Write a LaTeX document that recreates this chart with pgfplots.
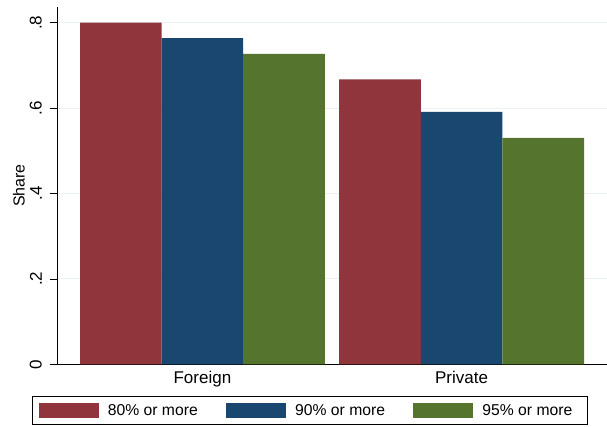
\documentclass[border=0pt]{standalone}
\usepackage{pgfplots}
\pgfplotsset{compat=1.18}
\usepackage{fontspec}
\setmainfont{Liberation Sans}
\definecolor{s2red}{RGB}{144,53,59}
\definecolor{s2blue}{RGB}{26,71,111}
\definecolor{s2green}{RGB}{85,117,47}
\definecolor{gridc}{RGB}{234,242,243}
\begin{document}
\begin{tikzpicture}[x=1pt,y=1pt]
\begin{axis}[
  at={(0,0)}, anchor=south west,
  scale only axis, width=550pt, height=357.6pt,
  xmin=-0.561, xmax=1.561, ymin=0, ymax=0.8375,
  axis x line*=bottom, axis y line*=left,
  axis line style={black, line width=0.8pt, -},
  ybar=0pt, bar width=81.6pt,
  xtick={0,1}, xticklabels={Foreign,Private},
  x tick style={draw=none},
  ytick={0,0.2,0.4,0.6,0.8}, yticklabels={0,.2,.4,.6,.8},
  tick align=outside, major tick length=7pt,
  y tick style={black, line width=0.8pt},
  ymajorgrids, grid style={gridc, line width=1pt},
  yticklabel shift=8pt,
  yticklabel style={rotate=90, anchor=south, inner sep=0pt, font=\fontsize{17}{20}\selectfont},
  xticklabel style={anchor=north, inner sep=0pt, yshift=0pt, font=\fontsize{17}{20}\selectfont},
  ylabel={Share},
  every axis y label/.style={at={(rel axis cs:0,0.5)}, xshift=-38pt, rotate=90, anchor=center, font=\fontsize{16}{19}\selectfont},
  legend columns=3,
  legend style={at={(rel axis cs:-0.0442,-0.0906)}, anchor=north west, draw=none, fill=none,
    inner xsep=6pt, inner ysep=6.5pt, font=\fontsize{15.7}{18}\selectfont,
    nodes={inner sep=0pt},
    /tikz/every odd column/.append style={column sep=9pt},
    /tikz/every even column/.append style={column sep=28.4pt}},
  legend cell align=left,
  legend image code/.code={\fill[#1] (0pt,-7.2pt) rectangle (60pt,7.2pt);},
]
\addplot[fill=s2red, draw=none] coordinates {(0,0.800) (1,0.6675)};
\addplot[fill=s2blue, draw=none] coordinates {(0,0.764) (1,0.591)};
\addplot[fill=s2green, draw=none] coordinates {(0,0.727) (1,0.530)};
\legend{80\% or more, 90\% or more, 95\% or more}
\end{axis}
\draw[black, line width=0.6pt] (-24.3,-32.4) rectangle (530.3,-59.9);
\pgfresetboundingbox
\path (-57,-61.7) rectangle (550,364.3);
\end{tikzpicture}
\end{document}
